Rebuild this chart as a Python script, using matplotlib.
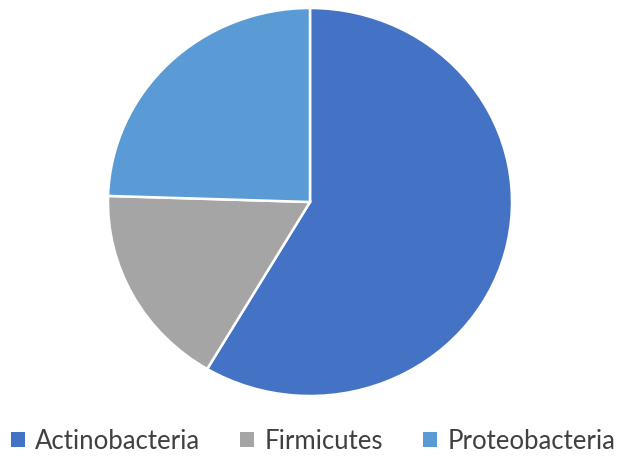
import matplotlib
matplotlib.use("Agg")
import matplotlib.pyplot as plt
from matplotlib.patches import Patch

categories = ["Actinobacteria", "Firmicutes", "Proteobacteria"]
values = [58.5, 17.0, 24.5]
colors = ["#4472C4", "#A5A5A5", "#5B9BD5"]

plt.rcParams['font.family'] = ['Lato', 'DejaVu Sans']

fig = plt.figure(figsize=(6.2, 4.6), dpi=100)
ax = fig.add_axes([108/620, (460-397)/460, 404/620, 388/460])
ax.pie(values, colors=colors, startangle=90, counterclock=False,
       wedgeprops=dict(edgecolor="white", linewidth=1.8))
ax.set_aspect('auto')
ax.set_xlim(-1, 1)
ax.set_ylim(-1, 1)
ax.axis('off')

handles = [Patch(facecolor=c, edgecolor='none') for c in colors]
fig.legend(handles, categories, loc='center', bbox_to_anchor=(0.505, 18/460),
           ncol=3, frameon=False, fontsize=18.5, handlelength=0.55, handleheight=0.55,
           handletextpad=0.4, columnspacing=1.55, labelcolor='#404040')

fig.savefig("out.png", dpi=100)
